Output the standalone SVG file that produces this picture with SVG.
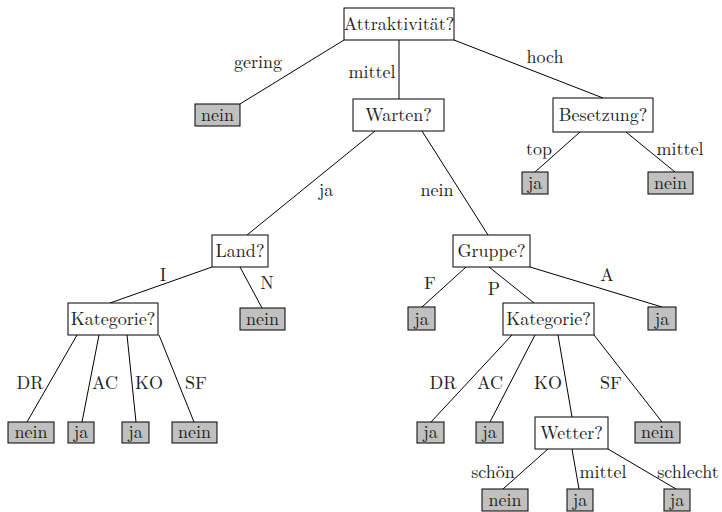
<svg xmlns="http://www.w3.org/2000/svg" width="722" height="512" viewBox="0 0 722 512">
<style>
.n rect{fill:#ffffff;stroke:#000;stroke-width:1}
.l rect{fill:#c0c0c0;stroke:#000;stroke-width:1}
text{font-family:'Latin Modern Roman','CMU Serif','Liberation Serif','Times New Roman','DejaVu Serif','Noto Serif',serif;font-size:18px;fill:#222;text-anchor:middle}
#edges line{stroke:#000;stroke-width:1}
</style>
<rect width="722" height="512" fill="#fff"/>
<g id="edges">
<line x1="344" y1="40" x2="240" y2="104"/>
<line x1="399" y1="40" x2="399" y2="99"/>
<line x1="454" y1="40" x2="603" y2="98"/>
<line x1="580" y1="132" x2="535" y2="172"/>
<line x1="626" y1="132" x2="675" y2="172"/>
<line x1="375" y1="131" x2="247" y2="235"/>
<line x1="422" y1="131" x2="488" y2="235"/>
<line x1="212" y1="267" x2="110" y2="303"/>
<line x1="240" y1="267" x2="262" y2="308"/>
<line x1="77" y1="335" x2="27" y2="422"/>
<line x1="99" y1="335" x2="82" y2="422"/>
<line x1="127" y1="335" x2="136" y2="422"/>
<line x1="159" y1="335" x2="194" y2="422"/>
<line x1="466" y1="267" x2="422" y2="307"/>
<line x1="489" y1="267" x2="534" y2="303"/>
<line x1="530" y1="267" x2="662" y2="307"/>
<line x1="512" y1="335" x2="431" y2="422"/>
<line x1="535" y1="335" x2="490" y2="422"/>
<line x1="558" y1="335" x2="572" y2="417"/>
<line x1="594" y1="335" x2="662" y2="422"/>
<line x1="548" y1="449" x2="503" y2="489"/>
<line x1="572" y1="449" x2="579" y2="489"/>
<line x1="608" y1="449" x2="676" y2="489"/>
</g>
<g id="edge-labels">
<text x="258" y="68">gering</text>
<text x="372" y="78">mittel</text>
<text x="545" y="63">hoch</text>
<text x="539" y="155">top</text>
<text x="680" y="155">mittel</text>
<text x="326" y="196">ja</text>
<text x="437" y="196">nein</text>
<text x="163" y="281">I</text>
<text x="267" y="289">N</text>
<text x="30" y="389">DR</text>
<text x="105" y="389">AC</text>
<text x="149" y="389">KO</text>
<text x="196" y="389">SF</text>
<text x="430" y="289">F</text>
<text x="494" y="295">P</text>
<text x="607" y="281">A</text>
<text x="443" y="389">DR</text>
<text x="490" y="389">AC</text>
<text x="548" y="389">KO</text>
<text x="611" y="389">SF</text>
<text x="493" y="478">schön</text>
<text x="603" y="478">mittel</text>
<text x="688" y="478">schlecht</text>
</g>
<g id="attraktivitaet" class="n"><rect x="344" y="8" width="110" height="32"/><text x="399" y="30">Attraktivität?</text></g>
<g id="leaf-gering" class="l"><rect x="195" y="104" width="45" height="22"/><text x="217.5" y="121">nein</text></g>
<g id="warten" class="n"><rect x="353" y="99" width="91" height="32"/><text x="398.5" y="121">Warten?</text></g>
<g id="besetzung" class="n"><rect x="553" y="98" width="100" height="34"/><text x="603" y="121">Besetzung?</text></g>
<g id="leaf-top" class="l"><rect x="522" y="172" width="26" height="22"/><text x="535" y="189">ja</text></g>
<g id="leaf-bes-mittel" class="l"><rect x="648" y="172" width="45" height="22"/><text x="670.5" y="189">nein</text></g>
<g id="land" class="n"><rect x="212" y="235" width="56" height="32"/><text x="240" y="257">Land?</text></g>
<g id="gruppe" class="n"><rect x="453" y="235" width="77" height="32"/><text x="491.5" y="257">Gruppe?</text></g>
<g id="kategorie1" class="n"><rect x="68" y="303" width="90" height="32"/><text x="113" y="325">Kategorie?</text></g>
<g id="leaf-N" class="l"><rect x="240" y="308" width="45" height="22"/><text x="262.5" y="325">nein</text></g>
<g id="leaf-k1-dr" class="l"><rect x="8" y="422" width="46" height="21"/><text x="31" y="438">nein</text></g>
<g id="leaf-k1-ac" class="l"><rect x="68" y="422" width="26" height="21"/><text x="81" y="438">ja</text></g>
<g id="leaf-k1-ko" class="l"><rect x="122" y="422" width="27" height="21"/><text x="135.5" y="438">ja</text></g>
<g id="leaf-k1-sf" class="l"><rect x="172" y="422" width="45" height="21"/><text x="194.5" y="438">nein</text></g>
<g id="leaf-F" class="l"><rect x="408" y="307" width="27" height="23"/><text x="421.5" y="325">ja</text></g>
<g id="kategorie2" class="n"><rect x="503" y="303" width="91" height="32"/><text x="548.5" y="325">Kategorie?</text></g>
<g id="leaf-A" class="l"><rect x="648" y="307" width="28" height="23"/><text x="662" y="325">ja</text></g>
<g id="leaf-k2-dr" class="l"><rect x="417" y="422" width="27" height="21"/><text x="430.5" y="438">ja</text></g>
<g id="leaf-k2-ac" class="l"><rect x="476" y="422" width="27" height="21"/><text x="489.5" y="438">ja</text></g>
<g id="wetter" class="n"><rect x="535" y="417" width="73" height="32"/><text x="571.5" y="439">Wetter?</text></g>
<g id="leaf-k2-sf" class="l"><rect x="635" y="422" width="45" height="21"/><text x="657.5" y="438">nein</text></g>
<g id="leaf-schoen" class="l"><rect x="482" y="489" width="46" height="22"/><text x="505" y="506">nein</text></g>
<g id="leaf-w-mittel" class="l"><rect x="567" y="489" width="26" height="22"/><text x="580" y="506">ja</text></g>
<g id="leaf-schlecht" class="l"><rect x="664" y="489" width="26" height="22"/><text x="677" y="506">ja</text></g>
</svg>
